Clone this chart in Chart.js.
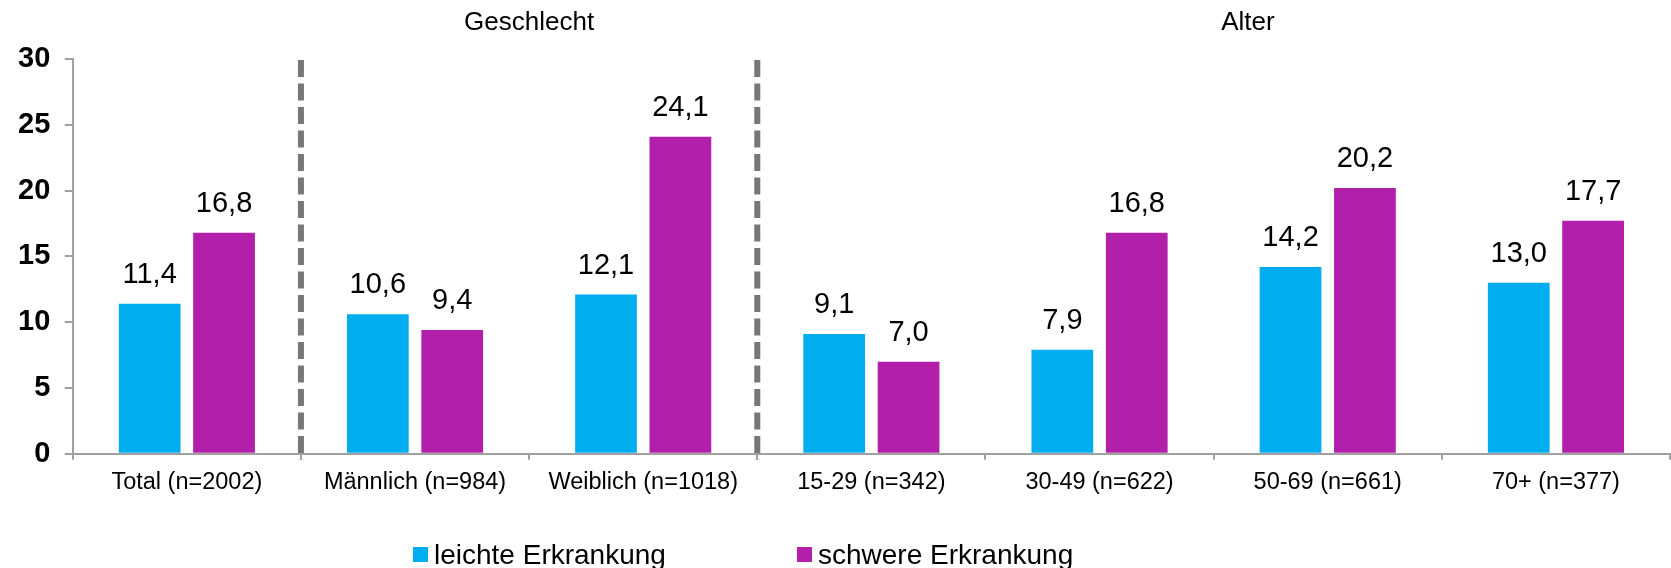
<!DOCTYPE html>
<html>
<head>
<meta charset="utf-8">
<script src="https://cdn.jsdelivr.net/npm/chart.js@4"></script>
<style>
  html, body { margin: 0; padding: 0; background: #fff; }
  .chart-wrap { width: 1671px; height: 568px; position: relative; }
</style>
</head>
<body>
<div class="chart-wrap"><canvas id="chart"></canvas></div>
<script>
  // data
  const categories = ['Total (n=2002)', 'Männlich (n=984)', 'Weiblich (n=1018)', '15-29 (n=342)', '30-49 (n=622)', '50-69 (n=661)', '70+ (n=377)'];
  const leicht = [11.4, 10.6, 12.1, 9.1, 7.9, 14.2, 13.0];
  const schwer = [16.8, 9.4, 24.1, 7.0, 16.8, 20.2, 17.7];
  const seriesNames = ['leichte Erkrankung', 'schwere Erkrankung'];
  const yTicks = [0, 5, 10, 15, 20, 25, 30];
  const groupNames = ['Geschlecht', 'Alter'];
  const groupCenters = [1.5, 4.65];   // in category index units
  const dividersAfter = [0, 2];       // dashed line after these categories

  const BLUE = '#00AEEF';
  const MAGENTA = '#B11FAB';
  const FONT = "'Liberation Sans', Arial, sans-serif";

  const fmt = v => v.toFixed(1).replace('.', ',');

  // value labels, dashed dividers, group titles, legend
  const extras = {
    id: 'extras',
    afterDatasetsDraw(chart) {
      const {ctx, scales: {x, y}} = chart;
      ctx.save();

      // value labels above bars
      ctx.font = '29px ' + FONT;
      ctx.fillStyle = '#000';
      ctx.textAlign = 'center';
      ctx.textBaseline = 'alphabetic';
      chart.data.datasets.forEach((ds, di) => {
        chart.getDatasetMeta(di).data.forEach((bar, i) => {
          ctx.fillText(fmt(ds.data[i]), bar.x, bar.y - 21);
        });
      });

      // dashed dividers
      ctx.strokeStyle = '#77777B';
      ctx.lineWidth = 6;
      ctx.setLineDash([17, 6.5]);
      dividersAfter.forEach(i => {
        const px = (x.getPixelForValue(i) + x.getPixelForValue(i + 1)) / 2;
        ctx.beginPath();
        ctx.moveTo(px, y.getPixelForValue(30) + 1);
        ctx.lineTo(px, y.bottom + 6);
        ctx.stroke();
      });
      ctx.setLineDash([]);

      // group titles
      ctx.font = '26px ' + FONT;
      ctx.textBaseline = 'middle';
      groupNames.forEach((g, i) => {
        ctx.fillText(g, x.getPixelForValue(groupCenters[i]), 23);
      });

      // legend
      const legendX = [413, 797];
      const colors = [BLUE, MAGENTA];
      ctx.font = '28px ' + FONT;
      ctx.textAlign = 'left';
      ctx.textBaseline = 'alphabetic';
      seriesNames.forEach((name, i) => {
        ctx.fillStyle = colors[i];
        ctx.fillRect(legendX[i], 547, 15, 15);
        ctx.fillStyle = '#000';
        ctx.fillText(name, legendX[i] + 21, 564);
      });

      ctx.restore();
    }
  };

  new Chart(document.getElementById('chart'), {
    type: 'bar',
    data: {
      labels: categories,
      datasets: [
        { label: seriesNames[0], data: leicht, backgroundColor: BLUE },
        { label: seriesNames[1], data: schwer, backgroundColor: MAGENTA }
      ]
    },
    options: {
      responsive: true,
      maintainAspectRatio: false,
      animation: false,
      layout: { padding: { top: 59, left: 3.5, right: 1, bottom: 62 } },
      categoryPercentage: 0.652,
      barPercentage: 0.83,
      plugins: {
        legend: { display: false },
        tooltip: { enabled: false }
      },
      scales: {
        x: {
          grid: { drawOnChartArea: false, drawTicks: true, tickLength: 6, color: '#A0A0A0', lineWidth: 2 },
          border: { display: true, color: '#A0A0A0', width: 2 },
          ticks: { color: '#000', font: { family: FONT, size: 23.5 }, padding: 9, maxRotation: 0, autoSkip: false }
        },
        y: {
          min: 0,
          max: 30,
          afterBuildTicks: scale => { scale.ticks = yTicks.map(v => ({ value: v })); },
          grid: { drawOnChartArea: false, drawTicks: true, tickLength: 8, color: '#A0A0A0', lineWidth: 2 },
          border: { display: true, color: '#A0A0A0', width: 2 },
          ticks: { color: '#000', font: { family: FONT, size: 29, weight: 'bold' }, padding: 14.5 }
        }
      }
    },
    plugins: [extras]
  });
</script>
</body>
</html>
